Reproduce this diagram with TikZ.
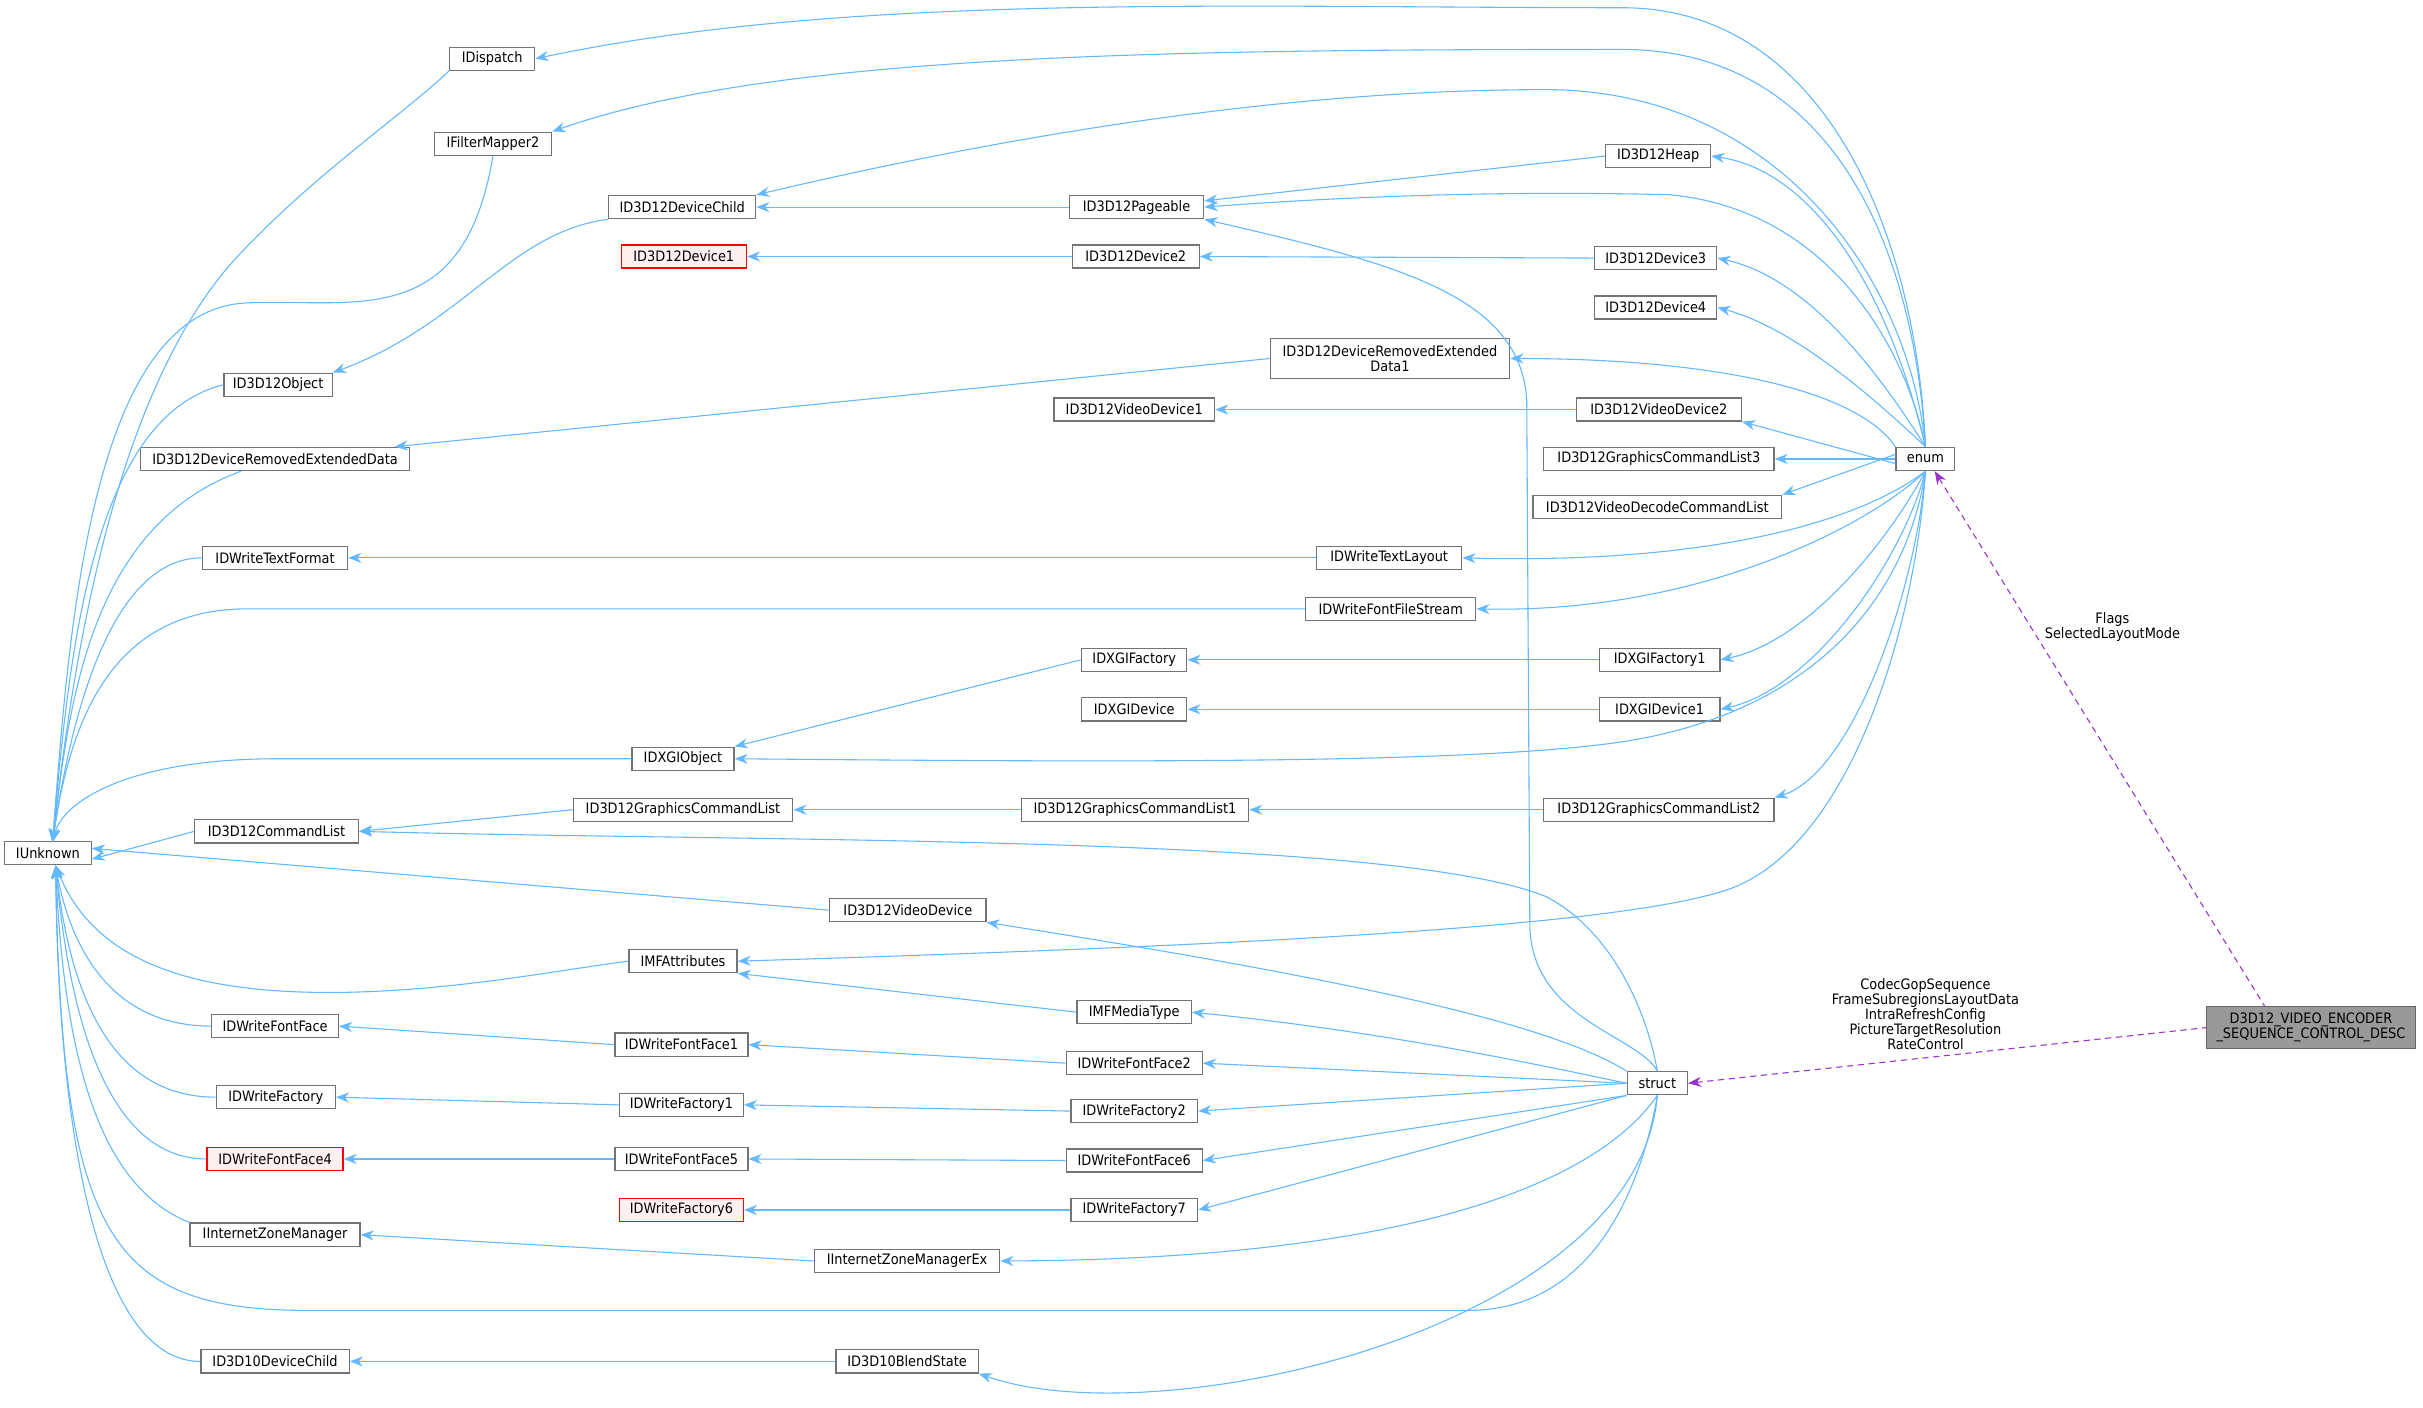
\documentclass[tikz,border=0pt]{standalone}
\usepackage{fontspec}
\setmainfont{DejaVu Sans Condensed}
\usetikzlibrary{arrows.meta}
\definecolor{edgec}{HTML}{63B8FF}
\definecolor{purp}{HTML}{9A32CD}
\begin{document}
\begin{tikzpicture}[x=1pt,y=-1pt,
  font=\fontsize{9.3}{9.7}\selectfont,
  box/.style={draw=black!55, fill=white, line width=0.8pt, minimum height=15pt, inner sep=1pt, align=center},
  red/.style={box, draw=red, fill=red!6},
  e/.style={draw=edgec, line width=0.7pt, >={Stealth[length=8.5pt,width=6.5pt]}, <-},
  pe/.style={draw=purp, line width=0.7pt, dashed, dash pattern=on 4pt off 3pt, >={Stealth[length=8.5pt,width=6.5pt]}, <-},
  lab/.style={align=center, inner sep=0pt}]
\useasboundingbox (0,0) rectangle (1568,911);
\fill[white] (0,0) rectangle (1568,911);
% nodes
\node[box,minimum width=56] (IUnknown) at (31,552) {IUnknown};
\node[box,minimum width=55] (IDispatch) at (318.5,38) {IDispatch};
\node[box,minimum width=76] (IFilterMapper2) at (319,93) {IFilterMapper2};
\node[box,minimum width=70] (ID3D12Object) at (180,249) {ID3D12Object};
\node[box,minimum width=174] (DRED) at (178,297) {ID3D12DeviceRemovedExtendedData};
\node[box,minimum width=94] (TextFormat) at (178,361) {IDWriteTextFormat};
\node[box,minimum width=106] (CmdList) at (179,538) {ID3D12CommandList};
\node[box,minimum width=82] (FontFace) at (178,664) {IDWriteFontFace};
\node[box,minimum width=77] (Factory) at (178.5,710) {IDWriteFactory};
\node[red,minimum width=88] (FontFace4) at (178,750) {IDWriteFontFace4};
\node[box,minimum width=110] (IZM) at (178,799) {IInternetZoneManager};
\node[box,minimum width=96] (D10Child) at (178,881) {ID3D10DeviceChild};
\node[box,minimum width=95] (DevChild) at (441.5,134) {ID3D12DeviceChild};
\node[red,minimum width=81] (Device1) at (442.5,166) {ID3D12Device1};
\node[box,minimum width=66] (DXGIObject) at (442,491) {IDXGIObject};
\node[box,minimum width=142] (GCL) at (442,524) {ID3D12GraphicsCommandList};
\node[box,minimum width=70] (MFAttr) at (442,622) {IMFAttributes};
\node[box,minimum width=86] (FontFace1) at (441,676) {IDWriteFontFace1};
\node[box,minimum width=80] (Factory1) at (441,715) {IDWriteFactory1};
\node[box,minimum width=86] (FontFace5) at (441,750) {IDWriteFontFace5};
\node[red,minimum width=80] (Factory6) at (441,783) {IDWriteFactory6};
\node[box,minimum width=87] (Pageable) at (735.5,134) {ID3D12Pageable};
\node[box,minimum width=82] (Device2) at (735,166) {ID3D12Device2};
\node[box,minimum width=155,minimum height=26] (DRED1) at (899.5,232) {ID3D12DeviceRemovedExtended\\Data1};
\node[box,minimum width=104] (VDev1) at (734,265) {ID3D12VideoDevice1};
\node[box,minimum width=94] (TextLayout) at (899,361) {IDWriteTextLayout};
\node[box,minimum width=110] (FFS) at (900,394) {IDWriteFontFileStream};
\node[box,minimum width=68] (DXGIFactory) at (734,427) {IDXGIFactory};
\node[box,minimum width=68] (DXGIDevice) at (734,459) {IDXGIDevice};
\node[box,minimum width=147] (GCL1) at (734.5,524) {ID3D12GraphicsCommandList1};
\node[box,minimum width=101] (VDev) at (587.5,589) {ID3D12VideoDevice};
\node[box,minimum width=74] (MediaType) at (734,655) {IMFMediaType};
\node[box,minimum width=88] (FontFace2) at (734,688) {IDWriteFontFace2};
\node[box,minimum width=82] (Factory2) at (734,719) {IDWriteFactory2};
\node[box,minimum width=88] (FontFace6) at (734,751) {IDWriteFontFace6};
\node[box,minimum width=82] (Factory7) at (734,783) {IDWriteFactory7};
\node[box,minimum width=120] (IZMEx) at (587,816) {IInternetZoneManagerEx};
\node[box,minimum width=92] (Blend) at (587,881) {ID3D10BlendState};
\node[box,minimum width=68] (Heap) at (1073,101) {ID3D12Heap};
\node[box,minimum width=79] (Device3) at (1071.5,167) {ID3D12Device3};
\node[box,minimum width=79] (Device4) at (1071.5,199) {ID3D12Device4};
\node[box,minimum width=107] (VDev2) at (1073.5,265) {ID3D12VideoDevice2};
\node[box,minimum width=149] (GCL3) at (1073.5,297) {ID3D12GraphicsCommandList3};
\node[box,minimum width=161] (VDCL) at (1072.5,328) {ID3D12VideoDecodeCommandList};
\node[box,minimum width=78] (DXGIFactory1) at (1074,427) {IDXGIFactory1};
\node[box,minimum width=78] (DXGIDevice1) at (1074,459) {IDXGIDevice1};
\node[box,minimum width=149] (GCL2) at (1073.5,524) {ID3D12GraphicsCommandList2};
\node[box,minimum width=39] (struct) at (1072.5,701) {struct};
\node[box,minimum width=38] (enum) at (1246,297) {enum};
\node[box,fill=black!40,draw=black!60,minimum width=135,minimum height=27] (desc) at (1495.5,665) {D3D12\_VIDEO\_ENCODER\\\_SEQUENCE\_CONTROL\_DESC};
% helper coordinates
\coordinate (HU) at (34,545);
\coordinate (HD) at (36,560);
% edges into IUnknown
\draw[e] (HU) .. controls (50,400) and (80,250) .. (150,170) .. controls (200,115) and (260,75) .. (IDispatch.south west);
\draw[e] (HU) .. controls (45,400) and (60,200) .. (160,196) .. controls (230,193) and (300,215) .. (IFilterMapper2.south);
\draw[e] (HU) .. controls (45,420) and (60,270) .. (ID3D12Object.west);
\draw[e] (HU) .. controls (45,450) and (60,340) .. ([xshift=-22]DRED.south);
\draw[e] (HU) .. controls (45,470) and (70,361) .. (TextFormat.west);
\draw[e] (HU) .. controls (45,470) and (70,394) .. (160,394) -- (FFS.west);
\draw[e] (HU) .. controls (40,520) and (80,491) .. (180,491) -- (DXGIObject.west);
\draw[e] ([yshift=-4]IUnknown.east) -- (CmdList.west);
\draw[e] ([yshift=3]IUnknown.east) -- (VDev.west);
\draw[e] (HD) .. controls (60,620) and (120,645) .. (230,642) .. controls (300,640) and (360,628) .. (MFAttr.west);
\draw[e] (HD) .. controls (45,610) and (70,664) .. (FontFace.west);
\draw[e] (HD) .. controls (45,640) and (70,710) .. (Factory.west);
\draw[e] (HD) .. controls (45,660) and (70,750) .. (FontFace4.west);
\draw[e] (HD) .. controls (42,700) and (70,770) .. (IZM.north west);
\draw[e] (HD) .. controls (40,800) and (70,848) .. (200,848) -- (950,848) .. controls (1030,848) and (1062,770) .. (struct.south);
\draw[e] (HD) .. controls (38,760) and (70,881) .. (D10Child.west);
% edges into enum
\draw[e] (IDispatch.east) .. controls (550,-5) and (800,5) .. (1050,5) .. controls (1180,5) and (1240,150) .. (enum.north);
\draw[e] (IFilterMapper2.north east) .. controls (500,35) and (750,32) .. (1050,32) .. controls (1180,32) and (1238,150) .. (enum.north);
\draw[e] (DevChild.north east) .. controls (600,100) and (800,58) .. (1000,58) .. controls (1150,58) and (1235,180) .. (enum.north);
\draw[e] (Pageable.east) .. controls (900,125) and (1000,124) .. (1080,126) .. controls (1180,135) and (1232,220) .. (enum.north);
\draw[e] (Heap.east) .. controls (1170,110) and (1220,180) .. (enum.north);
\draw[e] (Device3.east) .. controls (1170,180) and (1215,240) .. (enum.north);
\draw[e] (Device4.east) .. controls (1160,212) and (1210,255) .. (enum.north);
\draw[e] (DRED1.east) .. controls (1100,232) and (1200,250) .. (enum.north west);
\draw[e] (VDev2.south east) -- ([yshift=-3]enum.west);
\draw[e] (GCL3.east) -- (enum.west);
\draw[e] (VDCL.north east) -- ([yshift=3]enum.west);
\draw[e] (TextLayout.east) .. controls (1100,365) and (1200,340) .. (enum.south);
\draw[e] (FFS.east) .. controls (1100,397) and (1210,340) .. (enum.south);
\draw[e] (DXGIFactory1.east) .. controls (1170,415) and (1222,350) .. (enum.south);
\draw[e] (DXGIDevice1.east) .. controls (1175,445) and (1232,360) .. (enum.south);
\draw[e] (DXGIObject.east) .. controls (700,493) and (950,495) .. (1050,480) .. controls (1180,460) and (1235,380) .. (enum.south);
\draw[e] (GCL2.north east) .. controls (1200,500) and (1240,380) .. (enum.south);
\draw[e] (MFAttr.east) .. controls (800,612) and (1050,600) .. (1120,575) .. controls (1200,545) and (1240,400) .. (enum.south);
% edges into struct targets
\draw[e] (Pageable.south east) .. controls (900,170) and (985,190) .. (988,260) -- (990,600) .. controls (992,660) and (1060,670) .. (struct.north);
\draw[e] (CmdList.east) .. controls (500,545) and (900,540) .. (1000,580) .. controls (1040,600) and (1065,650) .. (struct.north);
\draw[e] (VDev.south east) .. controls (850,630) and (1000,660) .. (struct.north west);
\draw[e] (MediaType.east) .. controls (900,668) and (1000,690) .. (struct.west);
\draw[e] (FontFace2.east) -- (struct.west);
\draw[e] (Factory2.east) -- (struct.west);
\draw[e] (FontFace6.east) -- (struct.south west);
\draw[e] (Factory7.east) -- (struct.south west);
\draw[e] (IZMEx.east) .. controls (900,815) and (1030,770) .. (struct.south);
\draw[e] (Blend.south east) .. controls (750,930) and (1060,860) .. (struct.south);
% left-right edges
\draw[e] (ID3D12Object.north east) .. controls (300,210) and (330,150) .. (DevChild.south west);
\draw[e] (DevChild.east) -- (Pageable.west);
\draw[e] ([yshift=4]Pageable.east) -- (Heap.west);
\draw[e] (Device1.east) -- (Device2.west);
\draw[e] (Device2.east) -- (Device3.west);
\draw[e] ([xshift=-10]DRED.north east) -- (DRED1.west);
\draw[e] (VDev1.east) -- (VDev2.west);
\draw[e] (TextFormat.east) -- (TextLayout.west);
\draw[e] (DXGIObject.north east) -- (DXGIFactory.west);
\draw[e] (DXGIFactory.east) -- (DXGIFactory1.west);
\draw[e] (DXGIDevice.east) -- (DXGIDevice1.west);
\draw[e] (CmdList.east) -- (GCL.west);
\draw[e] (GCL.east) -- (GCL1.west);
\draw[e] (GCL1.east) -- (GCL2.west);
\draw[e] (MFAttr.south east) -- (MediaType.west);
\draw[e] (FontFace.east) -- (FontFace1.west);
\draw[e] (FontFace1.east) -- (FontFace2.west);
\draw[e] (Factory.east) -- (Factory1.west);
\draw[e] (Factory1.east) -- (Factory2.west);
\draw[e] (FontFace4.east) -- (FontFace5.west);
\draw[e] (FontFace5.east) -- (FontFace6.west);
\draw[e] (Factory6.east) -- (Factory7.west);
\draw[e] (IZM.east) -- (IZMEx.west);
\draw[e] (D10Child.east) -- (Blend.west);
% purple
\draw[pe] ([xshift=6]enum.south) -- ([xshift=-30]desc.north);
\draw[pe] (struct.east) -- (desc.west);
\node[lab] (l1) at (1367,406) {Flags\\SelectedLayoutMode};
\node[lab] (l2) at (1246,656) {CodecGopSequence\\FrameSubregionsLayoutData\\IntraRefreshConfig\\PictureTargetResolution\\RateControl};
\end{tikzpicture}
\end{document}
